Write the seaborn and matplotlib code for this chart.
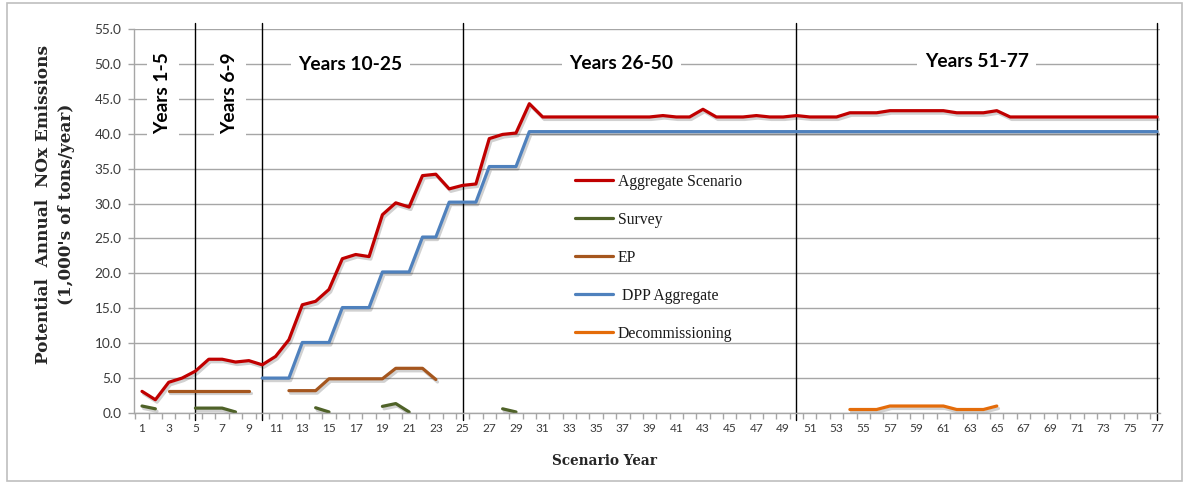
import numpy as np
import pandas as pd
import matplotlib
matplotlib.use("Agg")
import matplotlib.pyplot as plt
import matplotlib.patheffects as pe
from matplotlib.lines import Line2D
from matplotlib.patches import Rectangle
import seaborn as sns

# ---------------- data ----------------
x_tick_values = list(range(1, 78, 2))
x_tick_labels = [str(k) for k in x_tick_values]
y_tick_values = [0, 5, 10, 15, 20, 25, 30, 35, 40, 45, 50, 55]
y_tick_labels = ["0.0", "5.0", "10.0", "15.0", "20.0", "25.0", "30.0",
                 "35.0", "40.0", "45.0", "50.0", "55.0"]

aggregate_years = list(range(1, 78))
aggregate_values = [
    3.1, 1.9, 4.4, 5.0, 6.0, 7.7, 7.7, 7.3, 7.5, 6.9,
    8.1, 10.5, 15.5, 16.0, 17.7, 22.1, 22.7, 22.4, 28.4, 30.1,
    29.5, 34.0, 34.2, 32.1, 32.6, 32.8, 39.3, 39.9, 40.1, 44.3,
    42.4, 42.4, 42.4, 42.4, 42.4, 42.4, 42.4, 42.4, 42.4, 42.6,
    42.4, 42.4, 43.5, 42.4, 42.4, 42.4, 42.6, 42.4, 42.4, 42.6,
    42.4, 42.4, 42.4, 43.0, 43.0, 43.0, 43.3, 43.3, 43.3, 43.3,
    43.3, 43.0, 43.0, 43.0, 43.3, 42.4, 42.4, 42.4, 42.4, 42.4,
    42.4, 42.4, 42.4, 42.4, 42.4, 42.4, 42.4,
]

survey_years = [1, 2, 5, 6, 7, 8, 14, 15, 19, 20, 21, 28, 29]
survey_values = [1.0, 0.6, 0.7, 0.7, 0.7, 0.15, 0.75, 0.15, 0.95, 1.35, 0.15, 0.6, 0.15]

ep_years = [3, 4, 5, 6, 7, 8, 9, 12, 13, 14, 15, 16, 17, 18, 19, 20, 21, 22, 23]
ep_values = [3.2, 3.2, 3.2, 3.2, 3.2, 3.2, 3.2, 3.2, 3.2, 3.2,
             4.9, 4.9, 4.9, 4.9, 4.9, 6.4, 6.4, 6.4, 4.8]

dpp_years = list(range(10, 78))
dpp_values = [
    5.0, 5.0, 5.0, 10.1, 10.1, 10.1, 15.1, 15.1, 15.1, 20.2,
    20.2, 20.2, 25.2, 25.2, 30.2, 30.2, 30.2, 35.3, 35.3, 35.3,
    40.3, 40.3, 40.3, 40.3, 40.3, 40.3, 40.3, 40.3, 40.3, 40.3,
    40.3, 40.3, 40.3, 40.3, 40.3, 40.3, 40.3, 40.3, 40.3, 40.3,
    40.3, 40.3, 40.3, 40.3, 40.3, 40.3, 40.3, 40.3, 40.3, 40.3,
    40.3, 40.3, 40.3, 40.3, 40.3, 40.3, 40.3, 40.3, 40.3, 40.3,
    40.3, 40.3, 40.3, 40.3, 40.3, 40.3, 40.3, 40.3,
]

decom_years = [54, 55, 56, 57, 58, 59, 60, 61, 62, 63, 64, 65]
decom_values = [0.5, 0.5, 0.5, 1.0, 1.0, 1.0, 1.0, 1.0, 0.5, 0.5, 0.5, 1.0]

series_names = ["Aggregate Scenario", "Survey", "EP", " DPP Aggregate", "Decommissioning"]
series_colors = ["#C00000", "#4F6228", "#A5561E", "#4F81BD", "#E46C0A"]

period_lines = [5, 10, 25, 50, 77]
period_labels = ["Years 1-5", "Years 6-9", "Years 10-25", "Years 26-50", "Years 51-77"]

# ---------------- build long table (split gaps into segments) ----------------
rows = []
seg_id = 0
for name, yrs, vals in zip(
        series_names,
        [aggregate_years, survey_years, ep_years, dpp_years, decom_years],
        [aggregate_values, survey_values, ep_values, dpp_values, decom_values]):
    prev = None
    for yr, v in zip(yrs, vals):
        if prev is not None and yr - prev > 1:
            seg_id += 1
        rows.append({"year": yr, "value": v, "series": name, "segment": seg_id})
        prev = yr
    seg_id += 1
df = pd.DataFrame(rows)

# ---------------- figure ----------------
sns.set_theme(style="white")
plt.rcParams["font.family"] = ["Lato", "DejaVu Sans"]

W, H = 1190, 484
fig = plt.figure(figsize=(W / 100, H / 100), dpi=100)
L, R, T, B = 134, 1160, 29, 413
ax = fig.add_axes([L / W, 1 - B / H, (R - L) / W, (B - T) / H])

palette = dict(zip(series_names, series_colors))
draw_order = ["Survey", "EP", "Decommissioning", " DPP Aggregate", "Aggregate Scenario"]
for name in draw_order:
    sub = df[df["series"] == name]
    sns.lineplot(data=sub, x="year", y="value", units="segment", estimator=None,
                 color=palette[name], linewidth=2.3, ax=ax, legend=False, sort=False)

for ln in ax.lines:
    ln.set_solid_capstyle("round")
    ln.set_solid_joinstyle("round")
    ln.set_path_effects([pe.SimpleLineShadow(offset=(1.2, -1.8), shadow_color="black", alpha=0.18),
                         pe.Normal()])

ax.set_xlim(0.40, 77.22)
ax.set_ylim(0, 55)

ax.set_yticks(y_tick_values)
ax.set_yticklabels(y_tick_labels)
ax.set_xticks(x_tick_values)
ax.set_xticklabels(x_tick_labels)
ax.set_xticks(np.arange(0.5, 77.5, 1.0), minor=True)

ax.grid(axis="y", color="#A6A6A6", linewidth=1.0)
ax.grid(axis="x", visible=False)
ax.set_axisbelow(True)
for s in ["top", "right"]:
    ax.spines[s].set_visible(False)
for s in ["left", "bottom"]:
    ax.spines[s].set_color("#A6A6A6")
    ax.spines[s].set_linewidth(1.0)

ax.tick_params(axis="y", which="major", length=4, width=1, color="#A6A6A6",
               labelsize=9.8, labelcolor="#3A3A3A", pad=5, left=True)
ax.tick_params(axis="x", which="major", length=0, labelsize=8.6,
               labelcolor="#3A3A3A", pad=7, bottom=True)
ax.tick_params(axis="x", which="minor", length=4, width=1, color="#A6A6A6", bottom=True)

for k in period_lines:
    ax.axvline(k, ymin=-0.018, ymax=1.015, color="black", linewidth=1.0,
               clip_on=False, zorder=1.5)

txt_box = dict(boxstyle="square,pad=0.4", facecolor="white", edgecolor="none")
label_pos = [(2.57, 45.8, 90), (7.59, 45.8, 90), (16.6, 49.9, 0), (36.9, 50.1, 0), (63.5, 50.3, 0)]
for (xk, yv, rot), lab in zip(label_pos, period_labels):
    ax.text(xk, yv, lab, rotation=rot, ha="center", va="center", fontsize=13.8,
            fontweight="bold", color="black", bbox=txt_box, zorder=3)

serif = ["DejaVu Serif", "Liberation Serif"]
ax.set_xlabel("Scenario Year", fontsize=9.8, fontweight="bold", family=serif)
ax.xaxis.set_label_coords((604 - L) / (R - L), (B - 461) / (B - T))
ax.xaxis.label.set_va("center")
ax.set_ylabel("Potential  Annual  NOx Emissions\n(1,000's of tons/year)",
              fontsize=12.2, fontweight="bold", family=serif, linespacing=1.4)
ax.yaxis.set_label_coords((55 - L) / (R - L), (B - 204) / (B - T))
ax.yaxis.label.set_va("center")

legend_serif = ["Liberation Serif", "DejaVu Serif"]
handles = [Line2D([0], [0], color=c, linewidth=2.3) for c in series_colors]
leg = ax.legend(handles, series_names, loc="upper left",
                bbox_to_anchor=(567 / W, 1 - 166 / H), bbox_transform=fig.transFigure,
                frameon=False, borderpad=0, handlelength=2.45, handletextpad=0.28,
                labelspacing=1.40, prop={"family": legend_serif, "size": 11.3})
for t in leg.get_texts():
    t.set_color("#1A1A1A")

fig.patches.append(Rectangle((7 / W, 3 / H), (1182 - 7) / W, (481 - 3) / H,
                             transform=fig.transFigure, fill=False,
                             edgecolor="#BFBFBF", linewidth=1.2))

fig.savefig("out.png", dpi=100, facecolor="white")
